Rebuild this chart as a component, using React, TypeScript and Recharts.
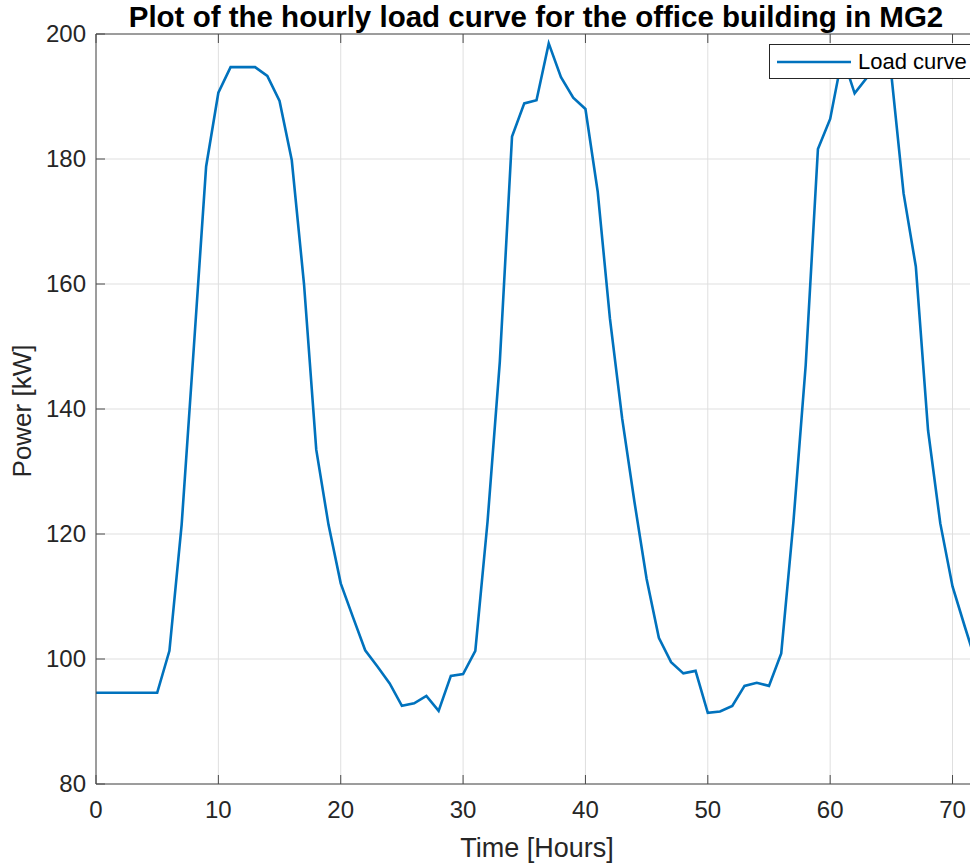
import React from 'react';
import { LineChart, Line, XAxis, YAxis, CartesianGrid, Legend } from 'recharts';

const hours = [
  0, 1, 2, 3, 4, 5, 6, 7, 8, 9, 10, 11, 12, 13, 14, 15, 16, 17, 18, 19, 20, 21, 22, 23, 24,
  25, 26, 27, 28, 29, 30, 31, 32, 33, 34, 35, 36, 37, 38, 39, 40, 41, 42, 43, 44, 45, 46, 47, 48,
  49, 50, 51, 52, 53, 54, 55, 56, 57, 58, 59, 60, 61, 62, 63, 64, 65, 66, 67, 68, 69, 70, 71, 72,
];

const loadKW = [
  94.6, 94.6, 94.6, 94.6, 94.6, 94.6, 101.3, 121.5, 150, 178.8, 190.6, 194.7, 194.7, 194.7, 193.3,
  189.3, 179.8, 160, 133.5, 121.5, 112.1, 106.7, 101.4, 98.8, 96.1,
  92.5, 92.9, 94.1, 91.7, 97.3, 97.6, 101.3, 122, 147.5, 183.6, 188.9, 189.4, 198.5, 193.1, 189.8,
  188.0, 174.8, 154.5, 138.5, 125.2, 112.8, 103.4, 99.5, 97.7,
  98.1, 91.4, 91.6, 92.5, 95.7, 96.2, 95.7, 100.9, 122, 147, 181.6, 186.4, 196.5, 190.5, 193,
  194.5, 193.5, 174.5, 162.8, 136.6, 121.7, 111.6, 105.2, 99,
];

const xTicks = [0, 10, 20, 30, 40, 50, 60, 70];
const yTicks = [80, 100, 120, 140, 160, 180, 200];
const xDomain = [0, 72];
const yDomain = [80, 200];

const seriesName = 'Load curve';
const titleText = 'Plot of the hourly load curve for the office building in MG2';
const xLabel = 'Time [Hours]';
const yLabel = 'Power [kW]';

const data = hours.map((h, i) => ({ hour: h, load: loadKW[i] }));

const FONT = '"Liberation Sans", Arial, Helvetica, sans-serif';
const AXIS = '#4a4a4a';
const TEXT = '#262626';
const BLUE = '#0072BD';
const TICK_LEN = 9;
const X_MARGIN = 15;
const Y_MARGIN = 10;

// bottom axis: label plus inward (upward) tick mark
const XTick = (props: any) => {
  const { x, y, payload } = props;
  const axisY = y - X_MARGIN;
  return (
    <g>
      <line x1={x} y1={axisY} x2={x} y2={axisY - TICK_LEN} stroke={AXIS} strokeWidth={1} />
      <text
        x={x}
        y={y}
        dy="0.8em"
        textAnchor="middle"
        fill={TEXT}
        fontSize={24}
        fontFamily={FONT}
      >
        {payload.value}
      </text>
    </g>
  );
};

// left axis: label plus inward (rightward) tick mark
const YTick = (props: any) => {
  const { x, y, payload } = props;
  const axisX = x + Y_MARGIN;
  return (
    <g>
      <line x1={axisX} y1={y} x2={axisX + TICK_LEN} y2={y} stroke={AXIS} strokeWidth={1} />
      <text
        x={x}
        y={y}
        dy="0.35em"
        textAnchor="end"
        fill={TEXT}
        fontSize={24}
        fontFamily={FONT}
      >
        {payload.value}
      </text>
    </g>
  );
};

// mirrored top/right axes: only inward tick marks
const TopTick = (props: any) => {
  const { x, y } = props;
  return <line x1={x} y1={y} x2={x} y2={y + TICK_LEN} stroke={AXIS} strokeWidth={1} />;
};
const RightTick = (props: any) => {
  const { x, y } = props;
  return <line x1={x} y1={y} x2={x - TICK_LEN} y2={y} stroke={AXIS} strokeWidth={1} />;
};

const LegendBox = () => (
  <div
    style={{
      boxSizing: 'border-box',
      width: 206,
      height: 35,
      border: `1px solid ${TEXT}`,
      background: '#fff',
      display: 'flex',
      alignItems: 'center',
      fontFamily: FONT,
      fontSize: 22,
      color: '#000',
    }}
  >
    <svg width={88} height={20} style={{ flex: 'none' }}>
      <line x1={7} y1={10} x2={81} y2={10} stroke={BLUE} strokeWidth={2.6} />
    </svg>
    <span style={{ whiteSpace: 'nowrap' }}>{seriesName}</span>
  </div>
);

export default function App() {
  return (
    <div
      style={{
        position: 'absolute',
        left: 0,
        top: 0,
        width: 970,
        height: 863,
        overflow: 'hidden',
        background: '#fff',
      }}
    >
      <LineChart
        width={990}
        height={863}
        data={data}
        margin={{ top: 34, right: 13, bottom: 39, left: 36 }}
      >
        <CartesianGrid xAxisId="x" yAxisId="y" stroke="#dfdfdf" strokeWidth={1} />
        <XAxis
          xAxisId="x"
          dataKey="hour"
          type="number"
          domain={xDomain}
          ticks={xTicks}
          interval={0}
          height={40}
          tickLine={false}
          tickSize={0}
          tickMargin={X_MARGIN}
          axisLine={{ stroke: AXIS, strokeWidth: 1 }}
          tick={<XTick />}
        />
        <XAxis
          xAxisId="xt"
          orientation="top"
          mirror
          height={10}
          type="number"
          domain={xDomain}
          ticks={xTicks}
          interval={0}
          tick={<TopTick />}
          tickLine={false}
          tickSize={0}
          tickMargin={0}
          axisLine={{ stroke: AXIS, strokeWidth: 1 }}
        />
        <YAxis
          yAxisId="y"
          type="number"
          domain={yDomain}
          ticks={yTicks}
          interval={0}
          width={60}
          tickLine={false}
          tickSize={0}
          tickMargin={Y_MARGIN}
          axisLine={{ stroke: AXIS, strokeWidth: 1 }}
          tick={<YTick />}
        />
        <YAxis
          yAxisId="yr"
          orientation="right"
          mirror
          width={10}
          type="number"
          domain={yDomain}
          ticks={yTicks}
          interval={0}
          tick={<RightTick />}
          tickLine={false}
          tickSize={0}
          tickMargin={0}
          axisLine={{ stroke: AXIS, strokeWidth: 1 }}
        />
        <Line
          xAxisId="x"
          yAxisId="y"
          type="linear"
          dataKey="load"
          name={seriesName}
          stroke={BLUE}
          strokeWidth={2.6}
          dot={false}
          activeDot={false}
          isAnimationActive={false}
        />
        <Legend
          layout="horizontal"
          verticalAlign="middle"
          align="center"
          content={<LegendBox />}
          wrapperStyle={{ position: 'absolute', top: 44, left: 769, width: 'auto', height: 'auto' }}
        />
      </LineChart>
      <svg
        width={970}
        height={863}
        style={{ position: 'absolute', left: 0, top: 0, pointerEvents: 'none' }}
      >
        <text
          x={536}
          y={27}
          textAnchor="middle"
          fontFamily={FONT}
          fontWeight="bold"
          fontSize={29.5}
          fill="#000"
        >
          {titleText}
        </text>
        <text
          x={537}
          y={857}
          textAnchor="middle"
          fontFamily={FONT}
          fontSize={27}
          fill={TEXT}
        >
          {xLabel}
        </text>
        <text
          x={31}
          y={411}
          textAnchor="middle"
          fontFamily={FONT}
          fontSize={26}
          fill={TEXT}
          transform="rotate(-90 31 411)"
        >
          {yLabel}
        </text>
      </svg>
    </div>
  );
}
